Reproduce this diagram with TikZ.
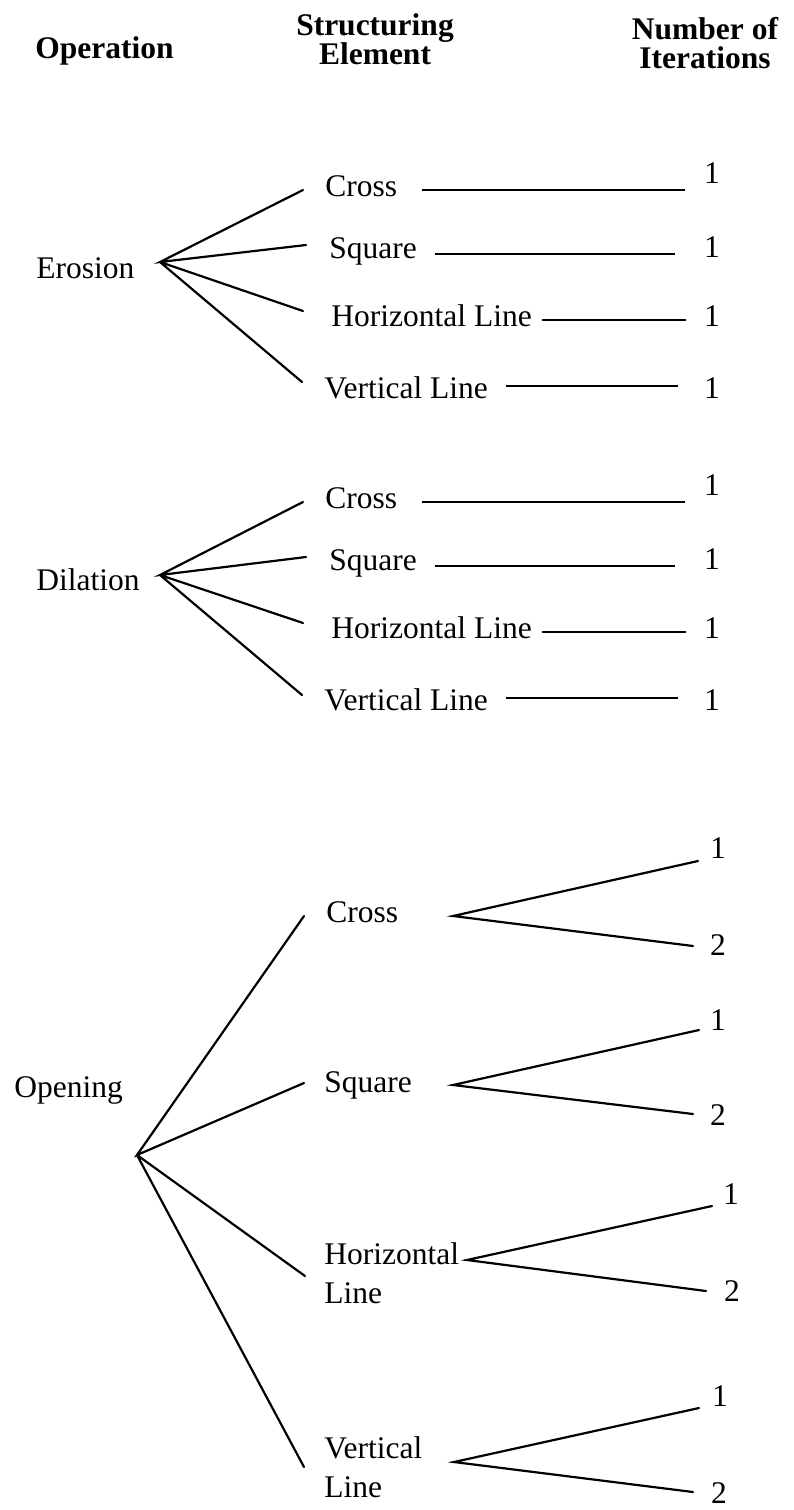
\documentclass[tikz,border=0pt]{standalone}
\usepackage{fontspec}
\setmainfont{Liberation Serif}
\begin{document}
\begin{tikzpicture}[x=0.5pt,y=-0.5pt,
  lbl/.style={inner sep=0pt, align=left, font=\fontsize{15.75}{19.25}\selectfont},
  num/.style={inner sep=0pt, anchor=base, font=\fontsize{15.75}{19.25}\selectfont},
  hdr/.style={inner sep=0pt, align=center, font=\fontsize{15.75}{14.5}\selectfont\bfseries},
  br/.style={line width=1.1pt, line cap=round},
  hl/.style={line width=0.9pt}]
\useasboundingbox (0,0) rectangle (793,1510);

% headers (base anchor = baseline of the last line)
\node[hdr, anchor=base west] (hOp) at (35,58) {Operation};
\node[hdr, anchor=base] (hSE) at (375,64) {Structuring\\Element};
\node[hdr, anchor=base] (hNI) at (705,68) {Number of\\Iterations};

% ---------- Erosion ----------
\node[lbl, anchor=base west] (ero) at (36,278) {Erosion};
\coordinate (eR) at (160,262);
\coordinate (eCe) at (303,190);
\coordinate (eSe) at (306,245);
\coordinate (eHe) at (303,311);
\coordinate (eVe) at (302,382);
\draw[br] (eCe) -- (eR) -- (eSe) (eR) -- (eHe) (eR) -- (eVe);
\node[lbl, anchor=base west] (eC) at (325,196) {Cross};
\node[lbl, anchor=base west] (eS) at (329,258) {Square};
\node[lbl, anchor=base west] (eH) at (331,326) {Horizontal Line};
\node[lbl, anchor=base west] (eV) at (324,398) {Vertical Line};
\node[num] (eC1) at (712,183) {1};
\node[num] (eS1) at (712,257) {1};
\node[num] (eH1) at (712,326) {1};
\node[num] (eV1) at (712,398) {1};
\coordinate (eCa) at (422,190); \coordinate (eCb) at (685,190);
\coordinate (eSa) at (435,254); \coordinate (eSb) at (675,254);
\coordinate (eHa) at (542,320); \coordinate (eHb) at (686,320);
\coordinate (eVa) at (506,386); \coordinate (eVb) at (678,386);
\draw[hl] (eCa) -- (eCb) (eSa) -- (eSb) (eHa) -- (eHb) (eVa) -- (eVb);

% ---------- Dilation ----------
\node[lbl, anchor=base west] (dil) at (36,590) {Dilation};
\coordinate (dR) at (160,575);
\coordinate (dCe) at (303,502);
\coordinate (dSe) at (306,557);
\coordinate (dHe) at (303,623);
\coordinate (dVe) at (302,695);
\draw[br] (dCe) -- (dR) -- (dSe) (dR) -- (dHe) (dR) -- (dVe);
\node[lbl, anchor=base west] (dC) at (325,508) {Cross};
\node[lbl, anchor=base west] (dS) at (329,570) {Square};
\node[lbl, anchor=base west] (dH) at (331,638) {Horizontal Line};
\node[lbl, anchor=base west] (dV) at (324,710) {Vertical Line};
\node[num] (dC1) at (712,495) {1};
\node[num] (dS1) at (712,569) {1};
\node[num] (dH1) at (712,638) {1};
\node[num] (dV1) at (712,710) {1};
\coordinate (dCa) at (422,502); \coordinate (dCb) at (685,502);
\coordinate (dSa) at (435,566); \coordinate (dSb) at (675,566);
\coordinate (dHa) at (542,632); \coordinate (dHb) at (686,632);
\coordinate (dVa) at (506,698); \coordinate (dVb) at (678,698);
\draw[hl] (dCa) -- (dCb) (dSa) -- (dSb) (dHa) -- (dHb) (dVa) -- (dVb);

% ---------- Opening ----------
\node[lbl, anchor=base west] (ope) at (14,1097) {Opening};
\coordinate (oR) at (137,1155);
\coordinate (oCe) at (304,916);
\coordinate (oSe) at (304,1083);
\coordinate (oHe) at (305,1276);
\coordinate (oVe) at (304,1467);
\draw[br] (oCe) -- (oR) -- (oSe) (oR) -- (oHe) (oR) -- (oVe);
\node[lbl, anchor=base west] (oC) at (326,922) {Cross};
\node[lbl, anchor=base west] (oS) at (324,1092) {Square};
\node[lbl, anchor=base west] (oH) at (324,1303) {Horizontal\\Line};
\node[lbl, anchor=base west] (oV) at (324,1497) {Vertical\\Line};

\coordinate (oCr) at (453,916);
\coordinate (oSr) at (453,1085);
\coordinate (oHr) at (467,1260);
\coordinate (oVr) at (454,1462);
\coordinate (oC1e) at (698,861);  \coordinate (oC2e) at (693,946);
\coordinate (oS1e) at (699,1030); \coordinate (oS2e) at (693,1114);
\coordinate (oH1e) at (712,1206); \coordinate (oH2e) at (706,1291);
\coordinate (oV1e) at (699,1408); \coordinate (oV2e) at (693,1492);
\draw[br] (oC1e) -- (oCr) -- (oC2e);
\draw[br] (oS1e) -- (oSr) -- (oS2e);
\draw[br] (oH1e) -- (oHr) -- (oH2e);
\draw[br] (oV1e) -- (oVr) -- (oV2e);
\node[num] (oC1) at (718,858) {1};
\node[num] (oC2) at (718,955) {2};
\node[num] (oS1) at (718,1030) {1};
\node[num] (oS2) at (718,1125) {2};
\node[num] (oH1) at (731,1204) {1};
\node[num] (oH2) at (732,1301) {2};
\node[num] (oV1) at (720,1406) {1};
\node[num] (oV2) at (719,1503) {2};
\end{tikzpicture}
\end{document}
